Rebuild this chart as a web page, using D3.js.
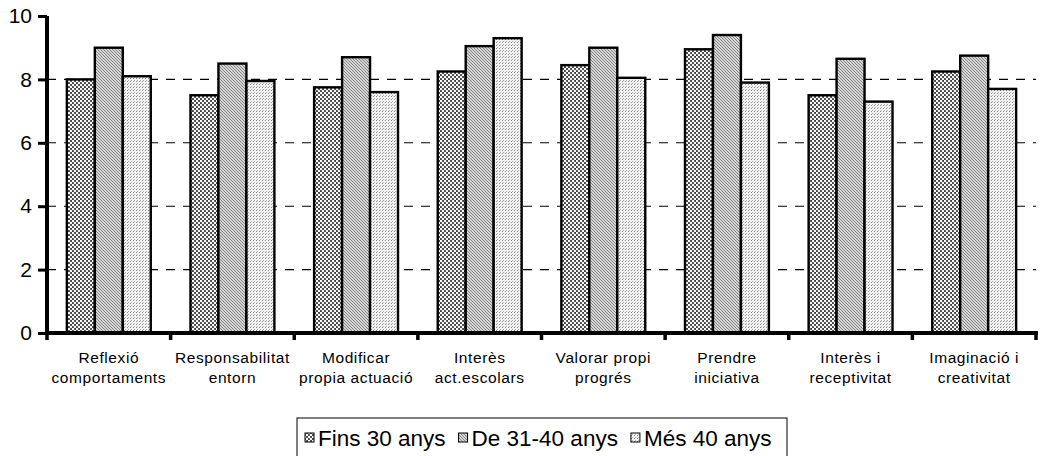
<!DOCTYPE html>
<html>
<head>
<meta charset="utf-8">
<script src="https://cdn.jsdelivr.net/npm/d3@7"></script>
<style>
  html, body { margin: 0; padding: 0; background: #fff; }
  svg { display: block; font-family: 'Liberation Sans', Arial, sans-serif; }
</style>
</head>
<body>
<div id="chart"></div>
<script>
const categories = [
  ['Reflexió', 'comportaments'],
  ['Responsabilitat', 'entorn'],
  ['Modificar', 'propia actuació'],
  ['Interès', 'act.escolars'],
  ['Valorar propi', 'progrés'],
  ['Prendre', 'iniciativa'],
  ['Interès i', 'receptivitat'],
  ['Imaginació i', 'creativitat']
];
const seriesNames = ['Fins 30 anys', 'De 31-40 anys', 'Més 40 anys'];
const fins30 = [8.0, 7.5, 7.75, 8.25, 8.45, 8.95, 7.5, 8.25];
const de3140 = [9.0, 8.5, 8.7, 9.05, 9.0, 9.4, 8.65, 8.75];
const mes40 = [8.1, 7.95, 7.6, 9.3, 8.05, 7.9, 7.3, 7.7];
const yTicks = [0, 2, 4, 6, 8, 10];

const width = 1043, height = 456;
const plotLeft = 47, plotRight = 1036, plotTop = 16, plotBottom = 333;
const fontFamily = "'Liberation Sans', Arial, sans-serif";

const svg = d3.select('#chart').append('svg').attr('width', width).attr('height', height);
const defs = svg.append('defs');

// fill textures imitating the scanned patterns
const p1 = defs.append('pattern').attr('id', 'pat0').attr('width', 4).attr('height', 4)
  .attr('patternUnits', 'userSpaceOnUse');
p1.append('rect').attr('width', 4).attr('height', 4).attr('fill', '#444');
p1.append('circle').attr('cx', 1).attr('cy', 1).attr('r', 1.2).attr('fill', '#fff');
p1.append('circle').attr('cx', 3).attr('cy', 3).attr('r', 1.2).attr('fill', '#fff');

const p2 = defs.append('pattern').attr('id', 'pat1').attr('width', 3).attr('height', 3)
  .attr('patternUnits', 'userSpaceOnUse');
p2.append('rect').attr('width', 3).attr('height', 3).attr('fill', '#d2d2d2');
p2.append('path').attr('d', 'M-1,-1 L4,4 M-1,2 L1,4 M2,-1 L4,1')
  .attr('stroke', '#7a7a7a').attr('stroke-width', 0.8);

const p3 = defs.append('pattern').attr('id', 'pat2').attr('width', 3).attr('height', 3)
  .attr('patternUnits', 'userSpaceOnUse');
p3.append('rect').attr('width', 3).attr('height', 3).attr('fill', '#f2f2f2');
p3.append('rect').attr('x', 1).attr('y', 0).attr('width', 1).attr('height', 1).attr('fill', '#8a8a8a');
p3.append('rect').attr('x', 2).attr('y', 2).attr('width', 1).attr('height', 1).attr('fill', '#b0b0b0');

const y = d3.scaleLinear().domain([0, 10]).range([plotBottom, plotTop]);
const x0 = d3.scaleBand().domain(d3.range(categories.length)).range([plotLeft, plotRight]);
const x1 = d3.scaleBand().domain(d3.range(seriesNames.length)).range([0, x0.bandwidth()])
  .paddingInner(0).paddingOuter(0.71);

// dashed grid lines
svg.append('g')
  .selectAll('line')
  .data(yTicks.filter((t) => t > 0 && t < 10))
  .join('line')
  .attr('x1', plotLeft)
  .attr('x2', plotRight)
  .attr('y1', (d) => y(d))
  .attr('y2', (d) => y(d))
  .attr('stroke', '#000')
  .attr('stroke-width', 1.1)
  .attr('stroke-dasharray', '9,8');

// bars
const series = [fins30, de3140, mes40];
const bars = svg.append('g');
series.forEach((vals, s) => {
  bars.selectAll('rect.s' + s)
    .data(vals)
    .join('rect')
    .attr('class', 's' + s)
    .attr('x', (d, i) => x0(i) + x1(s))
    .attr('y', (d) => y(d))
    .attr('width', x1.bandwidth())
    .attr('height', (d) => y(0) - y(d))
    .attr('fill', `url(#pat${s})`)
    .attr('stroke', '#000')
    .attr('stroke-width', 2.4);
});

// y axis
const yAxis = svg.append('g')
  .attr('transform', `translate(${plotLeft},0)`)
  .call(d3.axisLeft(y).tickValues(yTicks).tickSize(9).tickPadding(6).tickFormat(d3.format('d')));
yAxis.attr('font-family', fontFamily);
yAxis.select('.domain').attr('stroke-width', 4).attr('d', `M0,${plotTop}V${plotBottom + 2}`);
yAxis.selectAll('.tick line').attr('stroke-width', 3);
yAxis.selectAll('.tick text')
  .attr('font-size', 21)
  .attr('fill', '#000');

// x axis with ticks at the category boundaries
const xAxis = svg.append('g').attr('transform', `translate(0,${plotBottom})`);
xAxis.append('line')
  .attr('x1', plotLeft - 2).attr('x2', plotRight + 2)
  .attr('stroke', '#000').attr('stroke-width', 4);
xAxis.selectAll('line.tk')
  .data(d3.range(categories.length + 1))
  .join('line')
  .attr('class', 'tk')
  .attr('x1', (d) => (d < categories.length ? x0(d) : plotRight))
  .attr('x2', (d) => (d < categories.length ? x0(d) : plotRight))
  .attr('y1', 0)
  .attr('y2', 7)
  .attr('stroke', '#000')
  .attr('stroke-width', 3.5);

xAxis.selectAll('text.cat')
  .data(categories)
  .join('text')
  .attr('class', 'cat')
  .attr('text-anchor', 'middle')
  .attr('font-family', fontFamily)
  .attr('font-size', 15.5)
  .attr('letter-spacing', 0.6)
  .attr('fill', '#000')
  .each(function (lines, i) {
    const t = d3.select(this);
    lines.forEach((ln, k) => {
      t.append('tspan')
        .attr('x', x0(i) + x0.bandwidth() / 2)
        .attr('y', 30 + k * 20)
        .text(ln);
    });
  });

// legend
const legend = svg.append('g').attr('font-family', fontFamily);
legend.append('rect')
  .attr('x', 297).attr('y', 418).attr('width', 490).attr('height', 45)
  .attr('fill', '#fff').attr('stroke', '#000').attr('stroke-width', 1);
let lx = 305;
seriesNames.forEach((name, s) => {
  legend.append('rect')
    .attr('x', lx).attr('y', 433).attr('width', 9).attr('height', 9)
    .attr('fill', `url(#pat${s})`).attr('stroke', '#000').attr('stroke-width', 1);
  const txt = legend.append('text')
    .attr('x', lx + 13).attr('y', 446)
    .attr('font-size', 22.5)
    .attr('fill', '#000')
    .text(name);
  lx = lx + 13 + txt.node().getComputedTextLength() + 13;
});
</script>
</body>
</html>
